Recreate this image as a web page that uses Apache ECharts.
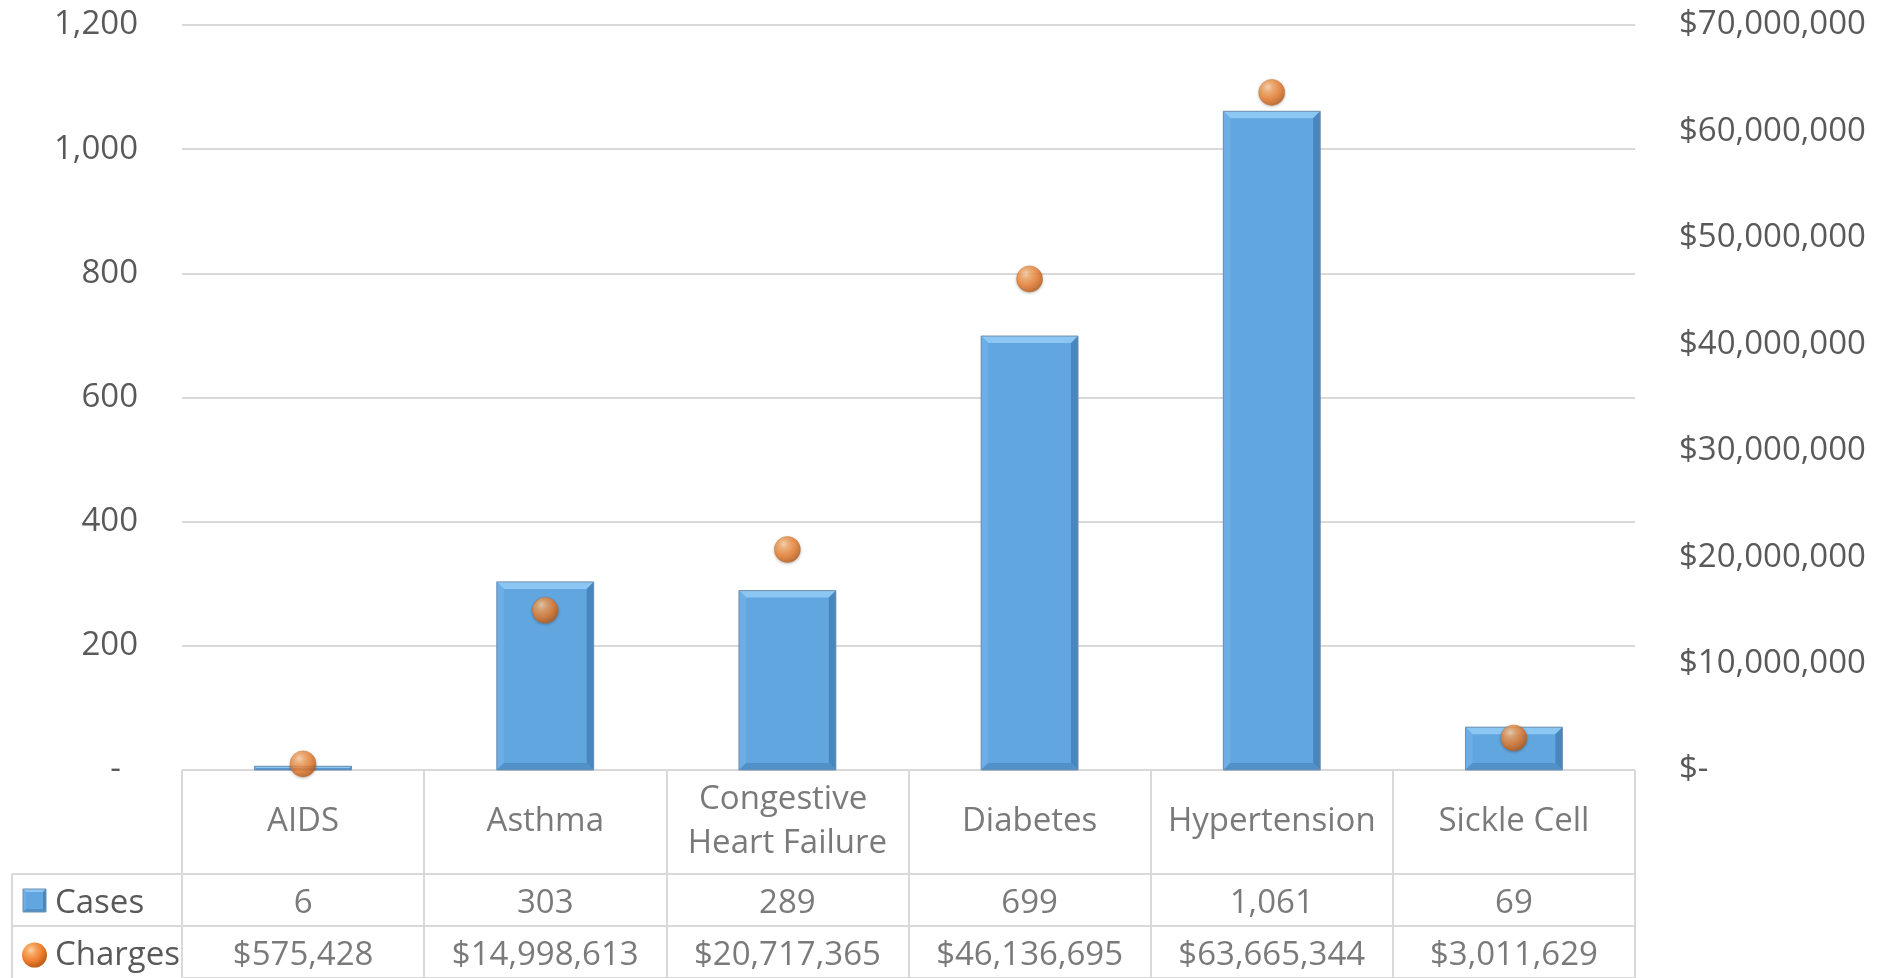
<!DOCTYPE html>
<html>
<head>
<meta charset="utf-8">
<script src="https://cdn.jsdelivr.net/npm/echarts@6/dist/echarts.min.js"></script>
<style>
html,body{margin:0;padding:0;background:#fff;}
#chart{width:1895px;height:978px;}
</style>
</head>
<body>
<div id="chart"></div>
<script>
// ---- data ----
const categories = ['AIDS', 'Asthma', 'Congestive Heart Failure', 'Diabetes', 'Hypertension', 'Sickle Cell'];
const cases = [6, 303, 289, 699, 1061, 69];
const charges = [575428, 14998613, 20717365, 46136695, 63665344, 3011629];
const rowNames = ['Cases', 'Charges'];

// ---- layout / style ----
const FONT = 'Open Sans';
const FS = 33;
const TXT = '#595959';
const GRIDC = '#D9D9D9';
const GRID_LEFT = 182, GRID_RIGHT = 260, GRID_TOP = 25, PLOT_H = 745;
const TABLE_TOP = GRID_TOP + PLOT_H, ROW_UNIT = 52, TABLE_LEFT = 12;
const TEXT_NUDGE = 0.06; // small vertical nudge of cell text within its row

const fmtNum = v => v.toLocaleString('en-US');
const fmtMoney = v => '$' + v.toLocaleString('en-US');

const sphereFill = {
  type: 'radial', x: 0.36, y: 0.3, r: 0.75,
  colorStops: [
    {offset: 0, color: '#FCD3AC'},
    {offset: 0.25, color: '#F7A661'},
    {offset: 0.6, color: '#EE7E2E'},
    {offset: 1, color: '#B55815'}
  ]
};

function bevelBox(x0, y0, x1, y1, b) {
  return [
    {type: 'rect', shape: {x: x0, y: y0, width: x1 - x0, height: y1 - y0}, style: {fill: '#62A6E0'}},
    {type: 'polygon', shape: {points: [[x0, y0], [x1, y0], [x1 - b, y0 + b], [x0 + b, y0 + b]]}, style: {fill: '#8CC6F2'}},
    {type: 'polygon', shape: {points: [[x0, y0], [x0 + b, y0 + b], [x0 + b, y1 - b], [x0, y1]]}, style: {fill: '#6DAEE6'}},
    {type: 'polygon', shape: {points: [[x1, y0], [x1, y1], [x1 - b, y1 - b], [x1 - b, y0 + b]]}, style: {fill: '#4A86BE'}},
    {type: 'polygon', shape: {points: [[x0, y1], [x0 + b, y1 - b], [x1 - b, y1 - b], [x1, y1]]}, style: {fill: '#5290C8'}},
    {type: 'rect', shape: {x: x0, y: y0, width: x1 - x0, height: y1 - y0}, style: {fill: 'none', stroke: '#6F8FAE', lineWidth: 1}}
  ];
}

function renderBar(params, api) {
  const idx = api.value(0), v = api.value(1);
  const top = api.coord([idx, v]);
  const base = api.coord([idx, 0]);
  const bw = api.size([1, 0])[0] * 0.4;
  const x0 = top[0] - bw / 2, x1 = top[0] + bw / 2;
  const y0 = top[1], y1 = base[1];
  const b = Math.max(0, Math.min(7, (y1 - y0) / 2, bw / 2));
  return {type: 'group', children: bevelBox(x0, y0, x1, y1, b)};
}

const barData = cases.map((v, i) => [i, v]);
const dotData = charges.map((v, i) => [i, v]);
const headerData = categories.map((c, i) => ({value: [i, 1], name: c}));
const casesRow = cases.map((v, i) => ({value: [i, 2.5 + TEXT_NUDGE], name: fmtNum(v)}));
const chargesRow = charges.map((v, i) => ({value: [i, 3.5 + TEXT_NUDGE], name: fmtMoney(v)}));

const cellLabel = {
  show: true, position: 'inside', formatter: p => p.name,
  fontFamily: FONT, fontSize: FS, color: TXT, lineHeight: 44,
  width: 225, overflow: 'break', align: 'center', verticalAlign: 'middle'
};
const cellSeries = (data) => ({
  type: 'scatter', xAxisIndex: 1, yAxisIndex: 2, data: data,
  symbolSize: 1, itemStyle: {color: 'rgba(0,0,0,0)'},
  label: cellLabel, silent: true, animation: false
});

const chart = echarts.init(document.getElementById('chart'), null, {renderer: 'canvas'});
const option = {
  backgroundColor: '#ffffff',
  animation: false,
  textStyle: {fontFamily: FONT},
  grid: [
    {left: GRID_LEFT, right: GRID_RIGHT, top: GRID_TOP, height: PLOT_H},
    {left: GRID_LEFT, right: GRID_RIGHT, top: TABLE_TOP, height: ROW_UNIT * 4}
  ],
  xAxis: [
    {type: 'category', gridIndex: 0, data: categories, boundaryGap: true,
     axisLine: {show: false}, axisTick: {show: false}, axisLabel: {show: false}, splitLine: {show: false}},
    {type: 'category', gridIndex: 1, data: categories, boundaryGap: true,
     axisLine: {show: false}, axisTick: {show: false}, axisLabel: {show: false},
     splitLine: {show: true, lineStyle: {color: GRIDC, width: 2}}}
  ],
  yAxis: [
    {type: 'value', gridIndex: 0, position: 'left', min: 0, max: 1200, interval: 200,
     axisLine: {show: false}, axisTick: {show: false},
     axisLabel: {margin: 44, fontFamily: FONT, fontSize: FS, color: TXT,
       formatter: v => v === 0 ? '-  ' : fmtNum(v)},
     splitLine: {show: true, lineStyle: {color: GRIDC, width: 2}}},
    {type: 'value', gridIndex: 0, position: 'right', min: 0, max: 70000000, interval: 10000000,
     axisLine: {show: false}, axisTick: {show: false},
     axisLabel: {margin: 44, fontFamily: FONT, fontSize: FS, color: TXT,
       formatter: v => v === 0 ? '$-' : fmtMoney(v)},
     splitLine: {show: false}},
    {type: 'value', gridIndex: 1, min: 0, max: 4, interval: 1, inverse: true,
     axisLine: {show: false}, axisTick: {show: false}, axisLabel: {show: false},
     splitLine: {show: true, lineStyle: {color: [GRIDC, 'rgba(0,0,0,0)', GRIDC, GRIDC, GRIDC], width: 2}}}
  ],
  series: [
    {name: 'Cases', type: 'custom', xAxisIndex: 0, yAxisIndex: 0, data: barData,
     renderItem: renderBar, encode: {x: 0, y: 1}, z: 2},
    {name: 'Charges', type: 'scatter', xAxisIndex: 0, yAxisIndex: 1, data: dotData,
     symbol: 'circle', symbolSize: 26, z: 5,
     itemStyle: {color: sphereFill, borderColor: '#C0661F', borderWidth: 0.5,
       shadowBlur: 3, shadowColor: 'rgba(0,0,0,0.3)', shadowOffsetY: 1}},
    cellSeries(headerData),
    cellSeries(casesRow),
    cellSeries(chargesRow)
  ],
  graphic: [
    // legend-key column borders of the data table
    {type: 'line', shape: {x1: TABLE_LEFT, y1: TABLE_TOP + ROW_UNIT * 2, x2: GRID_LEFT, y2: TABLE_TOP + ROW_UNIT * 2},
     style: {stroke: GRIDC, lineWidth: 2}, silent: true},
    {type: 'line', shape: {x1: TABLE_LEFT, y1: TABLE_TOP + ROW_UNIT * 3, x2: GRID_LEFT, y2: TABLE_TOP + ROW_UNIT * 3},
     style: {stroke: GRIDC, lineWidth: 2}, silent: true},
    {type: 'line', shape: {x1: TABLE_LEFT, y1: TABLE_TOP + ROW_UNIT * 2, x2: TABLE_LEFT, y2: TABLE_TOP + ROW_UNIT * 4},
     style: {stroke: GRIDC, lineWidth: 2}, silent: true},
    // legend keys
    {type: 'group', silent: true, children: bevelBox(23, TABLE_TOP + ROW_UNIT * 2.5 - 11, 46, TABLE_TOP + ROW_UNIT * 2.5 + 12, 3)},
    {type: 'text', x: 55, y: TABLE_TOP + ROW_UNIT * (2.5 + TEXT_NUDGE), silent: true,
     style: {text: rowNames[0], font: FS + 'px "' + FONT + '"', fill: TXT, verticalAlign: 'middle', align: 'left'}},
    {type: 'circle', shape: {cx: 34.5, cy: TABLE_TOP + ROW_UNIT * (3.5 + TEXT_NUDGE), r: 12.5}, silent: true,
     style: {fill: sphereFill}},
    {type: 'text', x: 55, y: TABLE_TOP + ROW_UNIT * (3.5 + TEXT_NUDGE), silent: true,
     style: {text: rowNames[1], font: FS + 'px "' + FONT + '"', fill: TXT, verticalAlign: 'middle', align: 'left'}}
  ]
};
chart.setOption(option);
</script>
</body>
</html>
